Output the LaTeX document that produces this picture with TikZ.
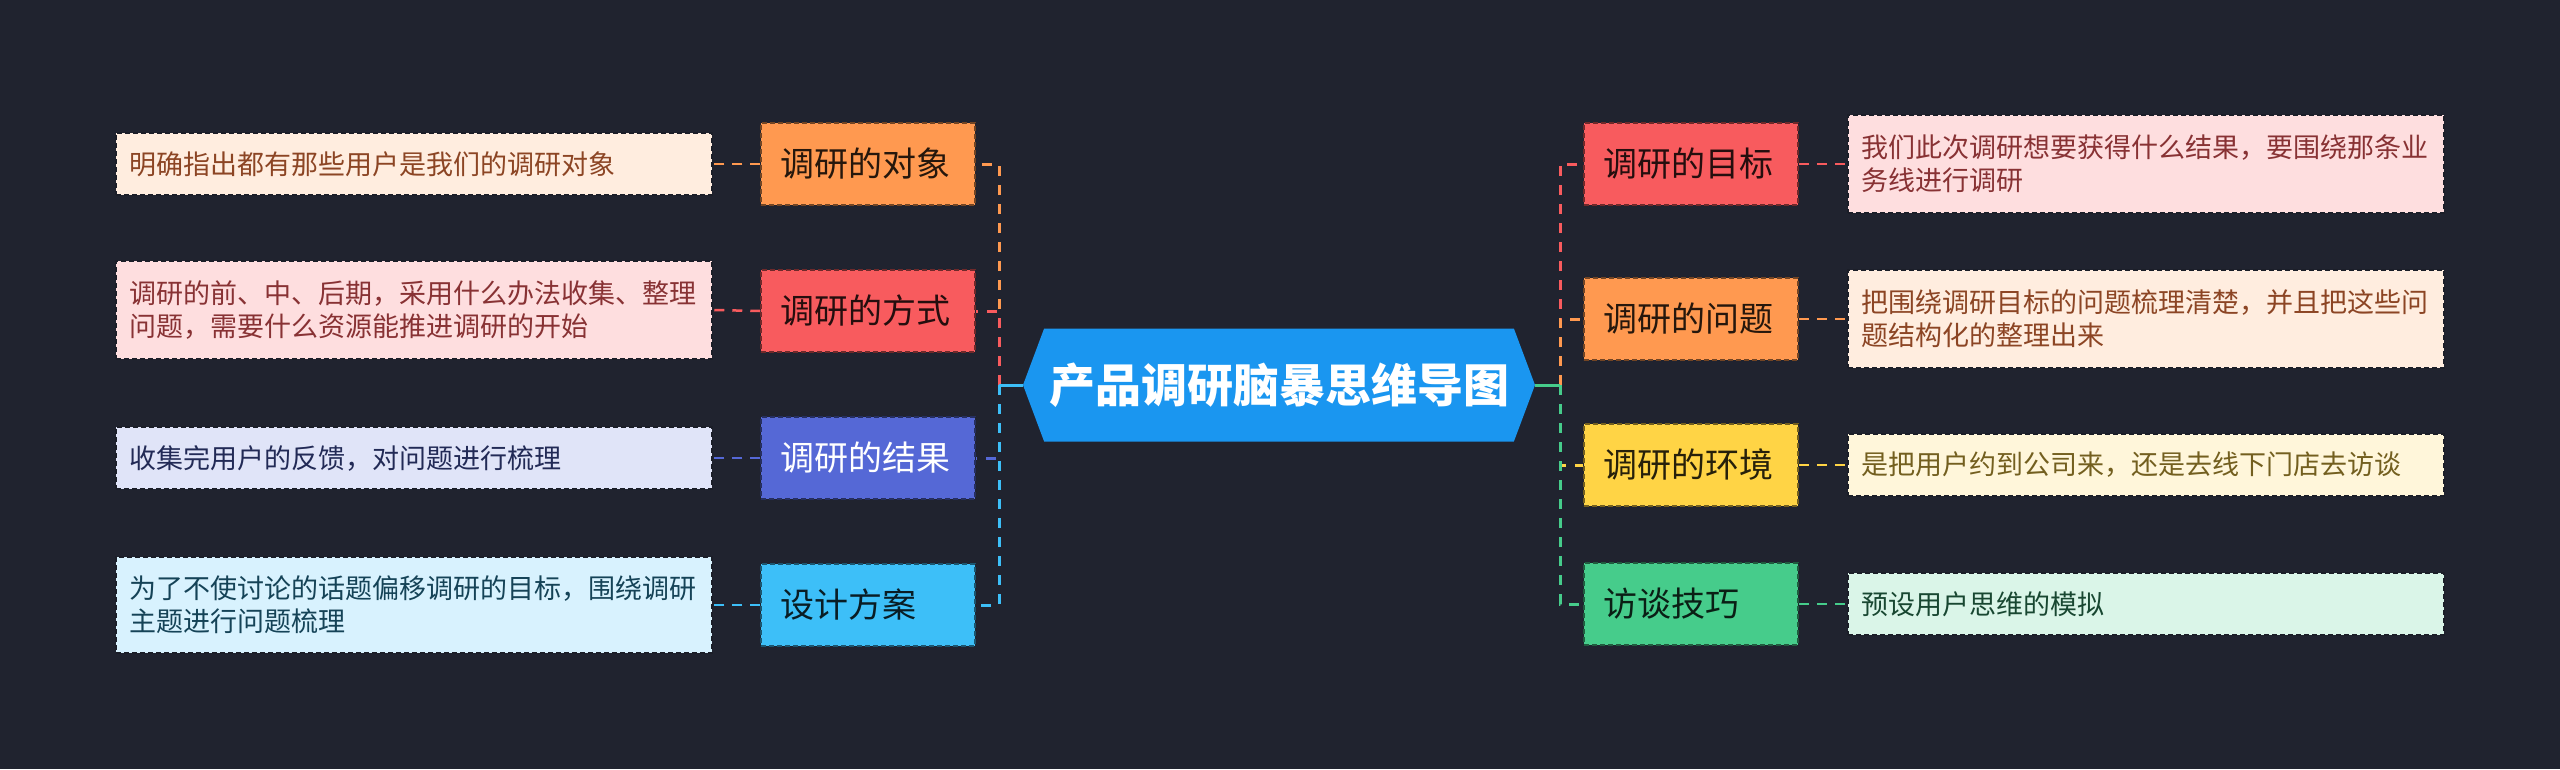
\documentclass[tikz,border=0pt]{standalone}
\usepackage{fontspec}
\newfontfamily\cjk{Noto Sans CJK SC}
\usetikzlibrary{shapes.symbols}
\definecolor{bgdark}{HTML}{20232F}
\definecolor{rootblue}{HTML}{1A96F0}
\definecolor{mindorange}{HTML}{FF9950}
\definecolor{mindred}{HTML}{F85B5E}
\definecolor{mindindigo}{HTML}{5568D6}
\definecolor{mindsky}{HTML}{3DBFF8}
\definecolor{mindyellow}{HTML}{FFD445}
\definecolor{mindgreen}{HTML}{46CC8B}
\tikzset{
  rootbox/.style={shape=signal,signal to=west and east,signal pointer angle=139,fill=rootblue,text=white,
    minimum width=512pt,minimum height=113pt,inner sep=0pt,font=\cjk\bfseries\fontsize{46pt}{52pt}\selectfont},
  mainbox/.style={rectangle,minimum width=214pt,minimum height=82pt,inner xsep=19pt,inner ysep=0pt,text width=176pt,
    align=left,line width=1.5pt,dash pattern=on 5pt off 3pt,font=\cjk\fontsize{34pt}{40pt}\selectfont},
  leafbox/.style={rectangle,minimum width=596pt,minimum height=62pt,inner xsep=13pt,inner ysep=0pt,text width=570pt,
    align=left,draw=bgdark!85!black,line width=1.5pt,dash pattern=on 5pt off 3pt,font=\cjk\fontsize{27pt}{33pt}\selectfont},
  stem/.style={line width=3pt},
  link/.style={line width=3pt,dash pattern=on 10pt off 9pt},
  twig/.style={line width=2.5pt,dash pattern=on 10pt off 8pt}
}

\begin{document}
\begin{tikzpicture}[x=1pt,y=-1pt]
  \fill[bgdark] (0,0) rectangle (2560,769);
  \useasboundingbox (0,0) rectangle (2560,769);
  % centre
  \node[rootbox] (root) at (1279,385) {产品调研脑暴思维导图};
  \coordinate (lbus) at (999,385);
  \coordinate (rbus) at (1560,385);
  % left side
  \node[mainbox,fill=mindorange,draw=mindorange!45!black,text=mindorange!15!black] (object) at (868,164) {调研的对象};
  \node[mainbox,fill=mindred,draw=mindred!45!black,text=mindred!15!black] (method) at (868,311) {调研的方式};
  \node[mainbox,fill=mindindigo,draw=mindindigo!45!black,text=white] (result) at (868,458) {调研的结果};
  \node[mainbox,fill=mindsky,draw=mindsky!45!black,text=mindsky!15!black] (design) at (868,605) {设计方案};
  \node[leafbox,fill=mindorange!18!white,text=mindorange!50!black!90!red] (objectnote) at (414,164) {明确指出都有那些用户是我们的调研对象};
  \node[leafbox,fill=mindred!20!white,text=mindred!55!black,minimum height=98pt] (methodnote) at (414,310) {调研的前、中、后期，采用什么办法收集、整理\\问题，需要什么资源能推进调研的开始};
  \node[leafbox,fill=mindindigo!18!white,text=mindindigo!40!black] (resultnote) at (414,458) {收集完用户的反馈，对问题进行梳理};
  \node[leafbox,fill=mindsky!20!white,text=mindsky!35!black,minimum height=96pt] (designnote) at (414,605) {为了不使讨论的话题偏移调研的目标，围绕调研\\主题进行问题梳理};
  % right side
  \node[mainbox,fill=mindred,draw=mindred!45!black,text=mindred!15!black] (goal) at (1691,164) {调研的目标};
  \node[mainbox,fill=mindorange,draw=mindorange!45!black,text=mindorange!15!black] (issue) at (1691,319) {调研的问题};
  \node[mainbox,fill=mindyellow,draw=mindyellow!45!black,text=mindyellow!15!black] (setting) at (1691,465) {调研的环境};
  \node[mainbox,fill=mindgreen,draw=mindgreen!45!black,text=mindgreen!15!black] (skill) at (1691,604) {访谈技巧};
  \node[leafbox,fill=mindred!20!white,text=mindred!55!black,minimum height=98pt] (goalnote) at (2146,164) {我们此次调研想要获得什么结果，要围绕那条业\\务线进行调研};
  \node[leafbox,fill=mindorange!18!white,text=mindorange!50!black!90!red,minimum height=98pt] (issuenote) at (2146,319) {把围绕调研目标的问题梳理清楚，并且把这些问\\题结构化的整理出来};
  \node[leafbox,fill=mindyellow!20!white,text=mindyellow!45!black] (settingnote) at (2146,465) {是把用户约到公司来，还是去线下门店去访谈};
  \node[leafbox,fill=mindgreen!20!white,text=mindgreen!35!black] (skillnote) at (2146,604) {预设用户思维的模拟};
  % connectors, left
  \draw[stem,mindorange] (root.west) -- (lbus);
  \draw[link,mindorange] (lbus) |- (object.east);
  \draw[stem,mindred] (root.west) -- (lbus);
  \draw[link,mindred] (lbus) |- (method.east);
  \draw[stem,mindindigo] (root.west) -- (lbus);
  \draw[link,mindindigo] (lbus) |- (result.east);
  \draw[stem,mindsky] (root.west) -- (lbus);
  \draw[link,mindsky] (lbus) |- (design.east);
  \draw[twig,mindorange] (object.west) -- (objectnote.east);
  \draw[twig,mindred] (method.west) -- (methodnote.east);
  \draw[twig,mindindigo] (result.west) -- (resultnote.east);
  \draw[twig,mindsky] (design.west) -- (designnote.east);
  % connectors, right
  \draw[stem,mindred] (root.east) -- (rbus);
  \draw[link,mindred] (rbus) |- (goal.west);
  \draw[stem,mindorange] (root.east) -- (rbus);
  \draw[link,mindorange] (rbus) |- (issue.west);
  \draw[stem,mindyellow] (root.east) -- (rbus);
  \draw[link,mindyellow] (rbus) |- (setting.west);
  \draw[stem,mindgreen] (root.east) -- (rbus);
  \draw[link,mindgreen] (rbus) |- (skill.west);
  \draw[twig,mindred] (goal.east) -- (goalnote.west);
  \draw[twig,mindorange] (issue.east) -- (issuenote.west);
  \draw[twig,mindyellow] (setting.east) -- (settingnote.west);
  \draw[twig,mindgreen] (skill.east) -- (skillnote.west);
\end{tikzpicture}
\end{document}
